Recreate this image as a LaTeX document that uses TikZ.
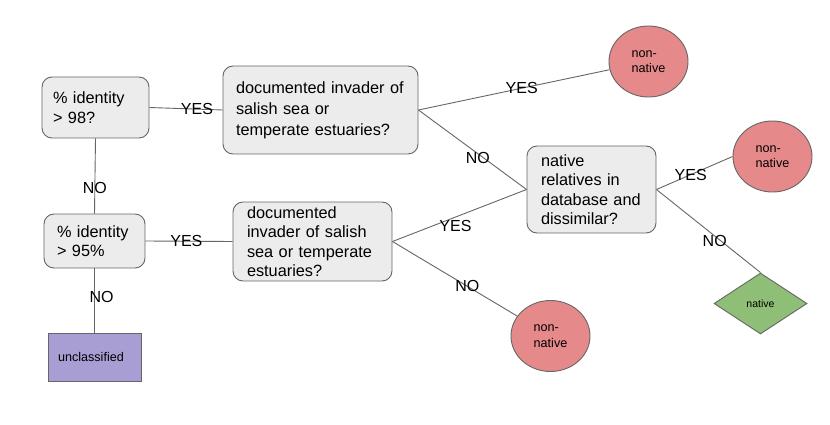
\documentclass[tikz,border=0pt]{standalone}
\usepackage{fontspec}
\setmainfont{Liberation Sans}
\usetikzlibrary{shapes.geometric}
\definecolor{boxfill}{RGB}{236,236,236}
\definecolor{edgegray}{RGB}{102,102,102}
\definecolor{redfill}{RGB}{230,137,138}
\definecolor{greenfill}{RGB}{143,190,118}
\definecolor{purplefill}{RGB}{168,158,211}
\begin{document}
\begin{tikzpicture}[x=1pt,y=-1pt,
  qbox/.style={draw=edgegray, fill=boxfill, rounded corners=10pt, line width=0.9pt,
    align=left, inner ysep=0pt, font=\fontsize{16.3}{19.5}\selectfont},
  endcirc/.style={ellipse, draw=edgegray, fill=redfill, line width=0.9pt,
    minimum width=79pt, minimum height=71pt, inner sep=0pt, align=left,
    font=\fontsize{12.6}{15.5}\selectfont},
  enddia/.style={diamond, draw=edgegray, fill=greenfill, line width=0.9pt,
    minimum width=93pt, minimum height=61pt, inner sep=0pt,
    font=\fontsize{10.5}{12}\selectfont},
  endrect/.style={rectangle, draw=edgegray, fill=purplefill, line width=0.9pt,
    minimum width=93pt, minimum height=48pt, inner sep=0pt, align=left,
    font=\fontsize{12.6}{15}\selectfont},
  conn/.style={draw=edgegray, line width=0.9pt},
  lbl/.style={font=\fontsize{16}{16}\selectfont, inner sep=0pt, text=black}]
\fill[white] (0,0) rectangle (830,425);
\useasboundingbox (0,0) rectangle (830,425);

\node[qbox, text width=85pt, inner xsep=11pt, minimum height=61pt] (A) at (95.5,107.5) {\% identity\\> 98?};
\node[qbox, text width=169pt, inner xsep=13pt, minimum height=88pt, font=\fontsize{16.3}{21}\selectfont] (B) at (320.5,110) {documented invader of\\salish sea or\\temperate estuaries?};
\node[qbox, text width=75pt, inner xsep=13pt, minimum height=54pt] (C) at (94.5,241) {\% identity\\> 95\%};
\node[qbox, text width=131pt, inner xsep=14pt, minimum height=79pt] (D) at (312.5,241.5) {documented\\invader of salish\\sea or temperate\\estuaries?};
\node[qbox, text width=101pt, inner xsep=14pt, minimum height=87pt] (E) at (591.5,189.5) {native\\relatives in\\database and\\dissimilar?};

\node[endrect, text width=73pt, inner xsep=10pt] (U) at (94.5,357) {unclassified};
\node[endcirc] (c1) at (648.5,61.5) {non-\\native};
\node[endcirc] (c2) at (772.5,156.5) {non-\\native};
\node[endcirc] (c3) at (550.5,336) {non-\\native};
\node[enddia] (dia) at (760.5,303.5) {native};

\draw[conn] (A.east) -- node[lbl,pos=0.65]{YES} (B.west);
\draw[conn] (A.south) -- node[lbl,pos=0.66]{NO} (C.north);
\draw[conn] (C.east) -- node[lbl,pos=0.47]{YES} (D.west);
\draw[conn] (C.south) -- node[lbl,pos=0.45,xshift=7pt]{NO} (U.north);
\draw[conn] (B.east) -- node[lbl,pos=0.54]{YES} (c1);
\draw[conn] (B.east) -- node[lbl,pos=0.55,yshift=-4pt]{NO} (E.west);
\draw[conn] (D.east) -- node[lbl,pos=0.47,yshift=-9pt]{YES} (E.west);
\draw[conn] (D.east) -- node[lbl,pos=0.6]{NO} (c3);
\draw[conn] (E.east) -- node[lbl,pos=0.45]{YES} (c2.west);
\draw[conn] (E.east) -- node[lbl,pos=0.56,yshift=-5pt]{NO} (dia.north);
\end{tikzpicture}
\end{document}
